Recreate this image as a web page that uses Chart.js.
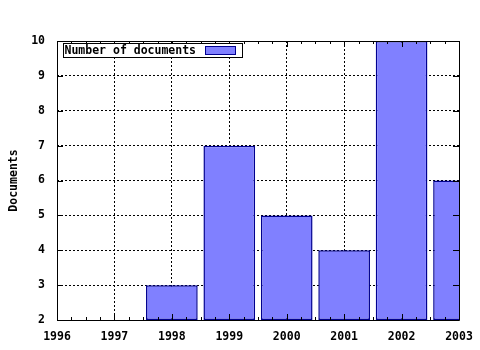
<!DOCTYPE html>
<html>
<head>
<meta charset="utf-8">
<script src="https://cdn.jsdelivr.net/npm/chart.js@4/dist/chart.umd.min.js"></script>
<style>
    html, body { margin: 0; padding: 0; background: #fff; }
    #wrap { width: 480px; height: 350px; }
</style>
</head>
<body>
<div id="wrap"><canvas id="grafico"></canvas></div>
<script>
const YEARS = [1998, 1999, 2000, 2001, 2002, 2003];
const DOCUMENTS = [3, 7, 5, 4, 10, 6];
const X_MIN = 1996, X_MAX = 2003;
const Y_MIN = 2, Y_MAX = 10;
const SERIES_LABEL = 'Number of documents';
const Y_TITLE = 'Documents';

const FILL = '#8080ff';
const EDGE = '#000090';
const FONT = { family: "'DejaVu Sans Mono', monospace", size: 11.5, weight: 'bold' };

// frame, inward ticks and the in-plot key (gnuplot style)
const framePlugin = {
    id: 'frame',
    afterDraw(chart) {
        const ctx = chart.ctx;
        const area = chart.chartArea;
        const xs = chart.scales.x;
        const ys = chart.scales.y;
        ctx.save();
        ctx.strokeStyle = '#000';
        ctx.lineWidth = 1;
        ctx.beginPath();
        ctx.rect(Math.round(area.left) + 0.5, Math.round(area.top) + 0.5,
            Math.round(area.right - area.left), Math.round(area.bottom - area.top));

        xs.ticks.forEach(t => {
            const px = Math.round(xs.getPixelForValue(t.value)) + 0.5;
            ctx.moveTo(px, area.bottom); ctx.lineTo(px, area.bottom - 6);
            ctx.moveTo(px, area.top); ctx.lineTo(px, area.top + 6);
            if (t.value < X_MAX) {
                for (let q = 1; q < 4; q++) {
                    const mx = Math.round(xs.getPixelForValue(t.value + q / 4)) + 0.5;
                    ctx.moveTo(mx, area.bottom); ctx.lineTo(mx, area.bottom - 3);
                    ctx.moveTo(mx, area.top); ctx.lineTo(mx, area.top + 3);
                }
            }
        });
        ys.ticks.forEach(t => {
            const py = Math.round(ys.getPixelForValue(t.value)) + 0.5;
            ctx.moveTo(area.left, py); ctx.lineTo(area.left + 6, py);
            ctx.moveTo(area.right, py); ctx.lineTo(area.right - 6, py);
        });
        ctx.stroke();

        // key box
        const bx = Math.round(area.left) + 6.5;
        const by = Math.round(area.top) + 2.5;
        ctx.fillStyle = '#fff';
        ctx.fillRect(bx, by, 179, 14);
        ctx.strokeRect(bx, by, 179, 14);
        ctx.fillStyle = '#000';
        ctx.font = `${FONT.weight} ${FONT.size}px ${FONT.family}`;
        ctx.textBaseline = 'middle';
        ctx.textAlign = 'left';
        ctx.fillText(chart.data.datasets[0].label, bx + 1, by + 7.5);
        ctx.fillStyle = FILL;
        ctx.fillRect(bx + 142, by + 3, 30, 8);
        ctx.strokeStyle = EDGE;
        ctx.strokeRect(bx + 142, by + 3, 30, 8);
        ctx.restore();
    }
};

function renderChart() {
    const ctx = document.getElementById('grafico');
    Chart.defaults.font = FONT;
    Chart.defaults.color = '#000';

    new Chart(ctx, {
        type: 'bar',
        data: {
            datasets: [{
                label: SERIES_LABEL,
                // bars drawn from the bottom of the axis up to each count
                data: YEARS.map((year, i) => ({ x: year, y: [Y_MIN, DOCUMENTS[i]] })),
                backgroundColor: FILL,
                borderColor: EDGE,
                borderWidth: 1.5,
                borderSkipped: false,
                categoryPercentage: 1,
                barPercentage: 0.9
            }]
        },
        options: {
            responsive: true,
            maintainAspectRatio: false,
            animation: false,
            layout: { padding: { top: 41, right: 21, left: 0, bottom: 0 } },
            plugins: {
                legend: { display: false },
                tooltip: { enabled: false }
            },
            scales: {
                x: {
                    type: 'linear',
                    min: X_MIN,
                    max: X_MAX,
                    offset: false,
                    grid: {
                        color: '#000',
                        offset: false,
                        drawTicks: false
                    },
                    border: { display: false, dash: [2, 2] },
                    ticks: {
                        stepSize: 1,
                        padding: 10,
                        maxRotation: 0,
                        callback: value => String(value)
                    },
                    afterFit: scale => {
                        scale.height = 30;
                        scale.paddingLeft = 0;
                        scale.paddingRight = 0;
                    }
                },
                y: {
                    min: Y_MIN,
                    max: Y_MAX,
                    grid: {
                        color: '#000',
                        drawTicks: false
                    },
                    border: { display: false, dash: [2, 2] },
                    ticks: {
                        stepSize: 1,
                        padding: 12
                    },
                    title: {
                        display: true,
                        text: Y_TITLE,
                        padding: { top: 7, bottom: 0 }
                    },
                    afterFit: scale => { scale.width = 57; }
                }
            }
        },
        plugins: [framePlugin]
    });
}

window.addEventListener('DOMContentLoaded', renderChart);
</script>
</body>
</html>
